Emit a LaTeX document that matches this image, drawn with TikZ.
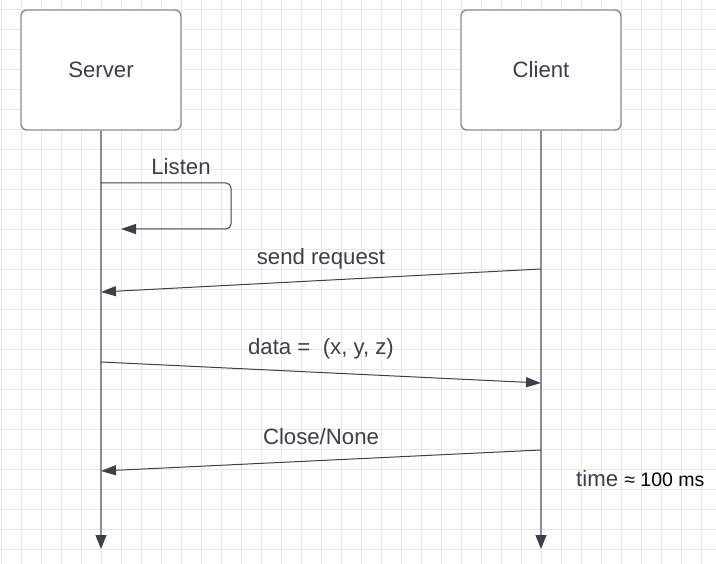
\documentclass[tikz,border=0pt]{standalone}
\usepackage{fontspec}
\setmainfont{Liberation Sans}
\usetikzlibrary{arrows.meta}
\definecolor{gridc}{HTML}{E8E8E8}
\definecolor{boxc}{HTML}{8A8D91}
\definecolor{linec}{HTML}{3A414A}
\definecolor{txtc}{HTML}{3B3F4A}
\begin{document}
\begin{tikzpicture}[x=1pt,y=-1pt,
  actor/.style={draw=boxc, line width=1.4pt, rounded corners=6pt, fill=white,
    minimum width=160pt, minimum height=120pt, inner sep=0pt,
    text=txtc, font=\fontsize{22.2}{26}\selectfont},
  lifeline/.style={draw=boxc, line width=1.4pt, -{Triangle[length=14pt,width=11pt,fill=linec,color=linec]}},
  msg/.style={draw=linec, line width=1pt, -{Triangle[length=15pt,width=10pt]}},
  lbl/.style={anchor=base, inner sep=0pt, text=txtc, font=\fontsize{22.2}{26}\selectfont}]
\useasboundingbox (0,0) rectangle (716,564);
\fill[white] (0,0) rectangle (716,564);
\foreach \i in {0,...,35} {\draw[gridc, line width=0.8pt] (1.5+20*\i,0) -- (1.5+20*\i,564);}
\foreach \j in {0,...,28} {\draw[gridc, line width=0.8pt] (0,9.5+20*\j) -- (716,9.5+20*\j);}
% actors
\node[actor] (server) at (101,70) {Server};
\node[actor] (client) at (541,70) {Client};
\coordinate (sEnd) at (101,549);
\coordinate (cEnd) at (541,549);
\draw[lifeline] (server.south) -- (sEnd);
\draw[lifeline] (client.south) -- (cEnd);
% listen self-message
\coordinate (l1) at (101,183);
\coordinate (l2) at (231,183);
\coordinate (l3) at (231,229);
\coordinate (l4) at (121,229);
\draw[msg, rounded corners=5pt] (l1) -- (l2) -- (l3) -- (l4);
\node[lbl] (listen) at (181,175) {Listen};
% send request
\coordinate (m1s) at (541,269);
\coordinate (m1e) at (101,292);
\draw[msg] (m1s) -- (m1e);
\node[lbl] (req) at (321,265) {send request};
% data
\coordinate (m2s) at (101,362);
\coordinate (m2e) at (541,383);
\draw[msg] (m2s) -- (m2e);
\node[lbl] (data) at (321,355) {data =\ \ (x, y, z)};
% close
\coordinate (m3s) at (541,450);
\coordinate (m3e) at (101,471);
\draw[msg] (m3s) -- (m3e);
\node[lbl] (close) at (321,445) {Close/None};
% time
\node[lbl, anchor=base west] (time) at (576,486) {time \textcolor{black}{\fontsize{19.5}{23}\selectfont ≈ 100 ms}};
\end{tikzpicture}
\end{document}
